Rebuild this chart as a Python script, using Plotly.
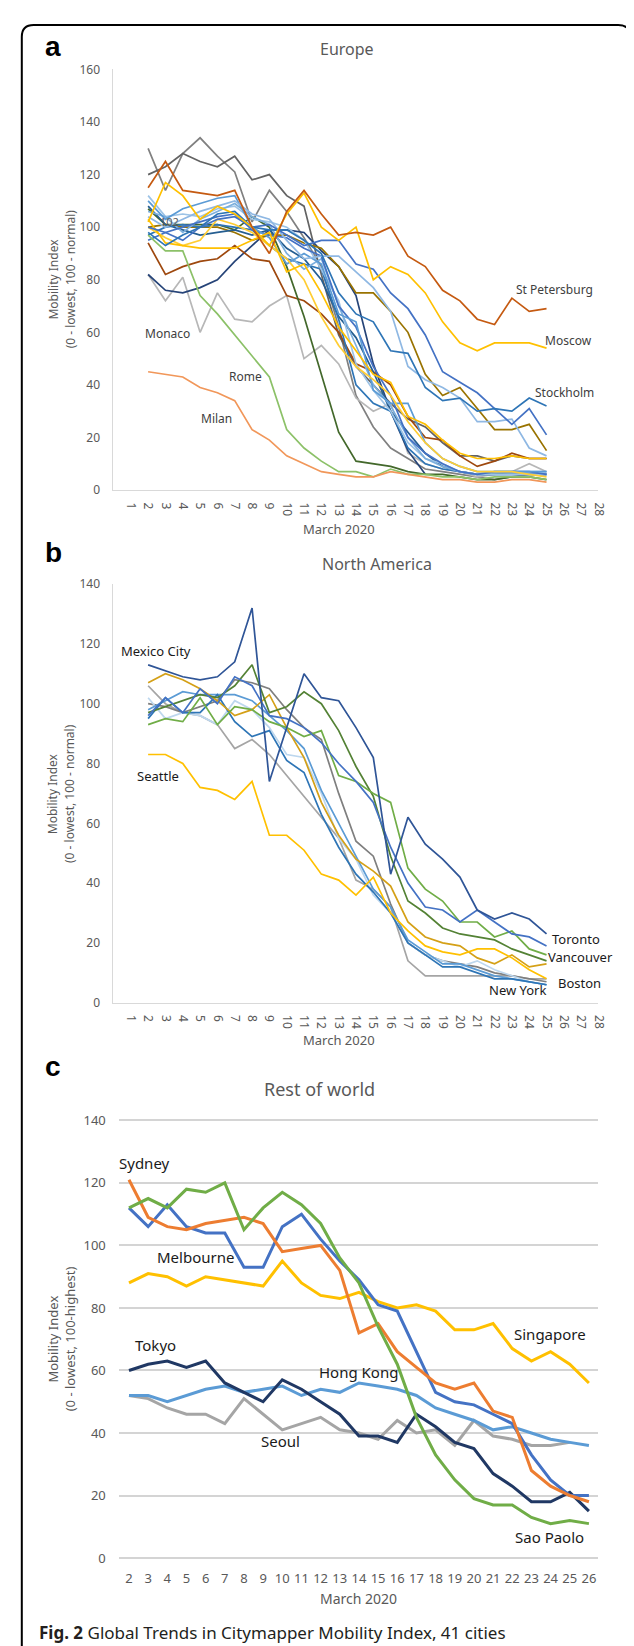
import plotly.graph_objects as go

# ---------------- DATA ----------------
eu_days = list(range(2, 26))
eu_ticks = list(range(1, 29))

st_petersburg = [115,125,114,113,112,114,100,90,106,114,105,97,98,97,100,89,85,76,72,65,63,73,68,69]
moscow        = [102,117,112,103,108,105,100,93,105,113,100,95,100,80,85,82,75,64,56,53,56,56,56,54]
stockholm     = [98,93,97,100,105,106,100,99,99,95,90,75,67,64,53,52,39,34,35,30,31,30,35,32]
eu_blue_a     = [100,98,95,100,103,104,100,101,97,93,95,95,86,84,75,69,59,45,41,37,31,25,31,21]
eu_lblue_a    = [104,100,103,106,108,110,105,103,95,88,89,89,83,77,68,47,42,39,35,26,26,27,16,13]
eu_olive      = [100,101,100,100,100,98,95,97,97,94,92,85,75,75,68,60,44,36,39,31,23,23,25,15]
eu_brown      = [94,82,85,87,88,93,88,87,74,72,67,60,48,45,40,28,20,19,13,9,11,14,12,12]
eu_gold_b     = [103,94,93,92,92,92,95,98,83,86,75,62,53,44,41,28,25,19,14,12,12,13,12,12]
milan         = [45,44,43,39,37,34,23,19,13,10,7,6,5,5,7,6,5,4,4,3,3,4,4,3]
rome          = [97,91,91,74,67,59,51,43,23,16,11,7,7,5,8,6,6,5,5,4,5,5,5,4]
monaco        = [82,72,81,60,75,65,64,70,74,50,55,48,35,30,33,14,10,8,7,5,6,7,10,7]
eu_navy       = [82,76,75,77,80,87,93,99,99,98,91,85,74,48,30,15,6,None,None,None,None,None,None,None]
eu_darkgrey   = [120,123,128,125,123,127,118,120,112,108,82,59,47,40,33,27,24,18,13,13,11,13,12,12]
eu_grey       = [130,114,128,134,127,121,102,114,106,96,85,62,36,24,16,12,8,7,6,5,4,5,6,6]
eu_darkgreen  = [107,101,101,101,101,99,104,100,85,66,44,22,11,10,9,7,6,6,5,4,4,5,5,4]
eu_blue_c     = [110,103,107,109,111,112,100,96,86,90,86,67,64,38,33,33,18,12,9,7,7,7,7,7]
eu_blue_d     = [97,100,101,100,101,100,99,93,88,86,84,65,40,33,30,16,10,8,7,6,6,6,6,6]
eu_lblue_b    = [106,104,98,103,106,109,104,101,90,84,88,70,55,40,32,20,12,9,7,6,7,7,7,7]
eu_blue_e     = [95,98,100,102,104,105,99,97,96,92,89,70,62,47,36,20,14,10,7,6,7,7,7,6]
eu_lblue_c    = [112,104,105,104,107,108,103,102,100,95,84,72,48,38,30,18,12,10,7,6,6,6,6,6]
eu_gold_c     = [100,96,93,95,103,101,98,93,88,80,66,55,47,42,36,26,18,12,9,7,7,7,6,5]
eu_blue_f     = [108,101,99,97,98,99,97,99,92,88,80,66,58,45,30,22,14,9,7,6,6,6,6,6]

na_days = list(range(2, 26))
mexico_city   = [113,111,109,108,109,114,132,74,92,110,102,101,92,82,43,62,53,48,42,31,28,30,28,23]
toronto       = [96,102,97,105,100,109,106,96,95,92,87,80,74,67,52,40,32,31,27,31,27,23,22,19]
vancouver     = [93,95,94,102,93,99,98,94,92,89,91,76,74,70,67,45,38,34,27,27,22,24,18,16]
na_darkgreen  = [97,99,101,103,102,106,113,97,99,104,100,91,79,69,49,34,30,25,23,22,21,18,16,14]
seattle       = [83,83,80,72,71,68,74,56,56,51,43,41,36,42,30,24,19,17,16,18,18,15,11,8]
na_darkgold   = [107,110,108,105,101,96,98,103,92,82,67,56,48,44,39,27,22,20,19,15,13,16,12,13]
na_grey       = [106,100,97,96,93,85,88,83,76,69,62,55,41,38,32,14,9,9,9,9,9,9,8,8]
na_darkgrey   = [100,99,97,99,101,108,107,105,98,92,88,70,54,49,33,20,16,14,13,12,10,9,8,7]
na_lblue      = [102,95,97,96,93,101,98,92,83,82,70,55,48,36,30,20,16,14,12,14,11,9,7,6]
na_blue2      = [98,101,104,103,103,103,101,96,91,85,71,60,49,38,32,21,17,13,13,11,9,8,7,6]
na_blue3      = [95,102,97,97,103,94,89,91,81,77,63,52,43,37,30,20,16,12,12,10,8,8,7,6]

row_days = list(range(2, 27))
row_yticks = [0, 20, 40, 60, 80, 100, 120, 140]
sydney    = [121,109,106,105,107,108,109,107,98,99,100,92,72,75,66,61,56,54,56,47,45,28,23,20,18]
melbourne = [112,106,113,106,104,104,93,93,106,110,102,95,89,81,79,66,53,50,49,46,43,33,25,20,20]
sao_paolo = [112,115,112,118,117,120,105,112,117,113,107,96,88,74,62,45,33,25,19,17,17,13,11,12,11]
singapore = [88,91,90,87,90,89,88,87,95,88,84,83,85,82,80,81,79,73,73,75,67,63,66,62,56]
tokyo     = [60,62,63,61,63,56,53,50,57,54,50,46,39,39,37,46,42,37,35,27,23,18,18,21,15]
hong_kong = [52,52,50,52,54,55,53,54,55,52,54,53,56,55,54,52,48,46,44,41,42,40,38,37,36]
seoul     = [52,51,48,46,46,43,51,46,41,43,45,41,40,38,44,40,41,36,44,39,38,36,36,37,None]

# ---------------- STYLE ----------------
W, H = 634, 1646
def X(px): return px / W
def Y(py): return 1 - py / H

FONT = "Noto Sans"
TICKC = "#595959"

eu_lines = [
    (eu_grey, "#808080"), (eu_darkgrey, "#636363"), (monaco, "#B7B7B7"),
    (eu_navy, "#264478"), (eu_brown, "#9E480E"), (eu_darkgreen, "#43682B"),
    (eu_olive, "#997300"), (eu_blue_f, "#255E91"), (eu_blue_d, "#2E75B6"),
    (eu_lblue_c, "#9DC3E6"), (eu_lblue_b, "#7CAFDD"), (eu_blue_e, "#4472C4"),
    (eu_blue_c, "#5B9BD5"), (eu_gold_c, "#FFCD33"), (eu_gold_b, "#FFC000"),
    (eu_lblue_a, "#8FB8E3"), (eu_blue_a, "#4472C4"), (stockholm, "#2E75B6"),
    (rome, "#8CC168"), (milan, "#F1975A"), (moscow, "#FFC000"),
    (st_petersburg, "#C55A11"),
]
na_lines = [
    (na_grey, "#A5A5A5"), (na_darkgrey, "#7F7F7F"), (na_lblue, "#BDD7EE"),
    (na_blue2, "#5B9BD5"), (na_blue3, "#2E75B6"), (na_darkgold, "#D4A017"),
    (seattle, "#FFC000"), (na_darkgreen, "#548235"), (vancouver, "#70AD47"),
    (toronto, "#4472C4"), (mexico_city, "#2F5597"),
]
row_lines = [
    (seoul, "#A5A5A5"), (hong_kong, "#5B9BD5"), (singapore, "#FFC000"),
    (tokyo, "#203864"), (melbourne, "#4472C4"), (sydney, "#ED7D31"),
    (sao_paolo, "#70AD47"),
]

fig = go.Figure()
for vals, col in eu_lines:
    fig.add_trace(go.Scatter(x=eu_days, y=vals, mode="lines", line=dict(color=col, width=1.7),
                             xaxis="x", yaxis="y", showlegend=False, hoverinfo="skip"))
for vals, col in na_lines:
    fig.add_trace(go.Scatter(x=na_days, y=vals, mode="lines", line=dict(color=col, width=1.7),
                             xaxis="x2", yaxis="y2", showlegend=False, hoverinfo="skip"))
for vals, col in row_lines:
    fig.add_trace(go.Scatter(x=row_days, y=vals, mode="lines", line=dict(color=col, width=3),
                             xaxis="x3", yaxis="y3", showlegend=False, hoverinfo="skip"))

tf = dict(family=FONT, size=12, color=TICKC)
common_x = dict(showgrid=False, zeroline=False, showline=True, linecolor="#D9D9D9", linewidth=1,
                ticks="outside", ticklen=9, tickcolor="rgba(0,0,0,0)", tickangle=90,
                tickvals=eu_ticks, ticktext=[str(t) for t in eu_ticks], range=[0, 28],
                tickfont=tf, fixedrange=True)
common_y = dict(showgrid=False, zeroline=False, showline=True, linecolor="#D9D9D9", linewidth=1,
                ticks="outside", ticklen=10, tickcolor="rgba(0,0,0,0)", dtick=20,
                tickfont=tf, fixedrange=True)

annos = []
def ann(text, px, py, size, color="#404040", xa="center", ya="middle", angle=0, family=FONT):
    annos.append(dict(text=text, x=X(px), y=Y(py), xref="paper", yref="paper", showarrow=False,
                      xanchor=xa, yanchor=ya, textangle=angle,
                      font=dict(family=family, size=size, color=color)))

# panel letters
ann("<b>a</b>", 46, 30, 28, "#000000", family="Liberation Sans")
ann("<b>b</b>", 46, 541, 28, "#000000", family="Liberation Sans")
ann("<b>c</b>", 46, 1060, 28, "#000000", family="Liberation Sans")
# titles
ann("Europe", 344, 32, 16, TICKC)
ann("North America", 374, 553, 16, TICKC)
ann("Rest of world", 316, 1083, 18, TICKC)
# y titles
ann("Mobility Index", 46, 265, 12, TICKC, angle=-90)
ann("(0 - lowest, 100 - normal)", 63, 265, 12, TICKC, angle=-90)
ann("Mobility Index", 46, 785, 12, TICKC, angle=-90)
ann("(0 - lowest, 100 - normal)", 63, 785, 12, TICKC, angle=-90)
ann("Mobility Index", 46, 1336, 13, TICKC, angle=-90)
ann("(0 - lowest, 100-highest)", 63, 1336, 13, TICKC, angle=-90)
# x titles
ann("March 2020", 336, 517, 13, TICKC)
ann("March 2020", 336, 1034, 13, TICKC)
ann("March 2020", 356, 1598, 14, TICKC)
# Europe labels
ann("St Petersburg", 554, 275, 12)
ann("Moscow", 569, 327, 12)
ann("Stockholm", 565, 379, 12)
ann("Monaco", 162, 320, 12)
ann("Rome", 241, 363, 12)
ann("Milan", 212, 406, 12)
ann("102", 164, 207, 11, "#595959")
# NA labels
NAC = "#1A1A1A"
ann("Mexico City", 150, 641, 13, NAC)
ann("Seattle", 152, 767, 13, NAC)
ann("Toronto", 576, 932, 13, NAC)
ann("Vancouver", 581, 950, 13, NAC)
ann("Boston", 580, 976, 13, NAC)
ann("New York", 517, 983, 13, NAC)
# Rest of world labels
ann("Sydney", 138, 1158, 15, NAC)
ann("Melbourne", 190, 1253, 15, NAC)
ann("Singapore", 550, 1331, 15, NAC)
ann("Tokyo", 150, 1342, 15, NAC)
ann("Hong Kong", 356, 1369, 15, NAC)
ann("Seoul", 276, 1439, 15, NAC)
ann("Sao Paolo", 549, 1536, 15, NAC)
# caption
ann("<b>Fig. 2</b> Global Trends in Citymapper Mobility Index, 41 cities", 29, 1632, 17,
    "#231F20", xa="left")

border = (f"M {X(14)},{Y(1670)} L {X(14)},{Y(20)} Q {X(14)},{Y(8)} {X(26)},{Y(8)} "
          f"L {X(619)},{Y(8)} Q {X(631)},{Y(8)} {X(631)},{Y(20)} L {X(631)},{Y(1670)}")

fig.update_layout(
    width=W, height=H, autosize=False,
    margin=dict(l=0, r=0, t=0, b=0),
    paper_bgcolor="white", plot_bgcolor="white",
    font=dict(family=FONT),
    xaxis=dict(common_x, domain=[X(107), X(599)], anchor="y"),
    yaxis=dict(common_y, domain=[Y(478), Y(53)], range=[0, 160], anchor="x"),
    xaxis2=dict(common_x, domain=[X(107), X(599)], anchor="y2"),
    yaxis2=dict(common_y, domain=[Y(996), Y(573)], range=[0, 140], anchor="x2"),
    xaxis3=dict(domain=[X(113), X(599)], anchor="y3", range=[1.5, 26.5],
                tickvals=row_days, ticktext=[str(d) for d in row_days],
                showgrid=False, zeroline=False, showline=False,
                ticks="outside", ticklen=7, tickcolor="rgba(0,0,0,0)",
                tickfont=dict(family=FONT, size=13, color=TICKC), fixedrange=True),
    yaxis3=dict(domain=[Y(1559), Y(1113)], anchor="x3", range=[-0.6, 140.6],
                tickvals=row_yticks,
                showgrid=True, gridcolor="#D4D4D4", gridwidth=2, zeroline=False, showline=False,
                ticks="outside", ticklen=10, tickcolor="rgba(0,0,0,0)",
                tickfont=dict(family=FONT, size=13, color=TICKC), fixedrange=True),
    annotations=annos,
    shapes=[dict(type="path", path=border, xref="paper", yref="paper",
                 line=dict(color="#000000", width=2))],
)

fig.write_html("out.html")
